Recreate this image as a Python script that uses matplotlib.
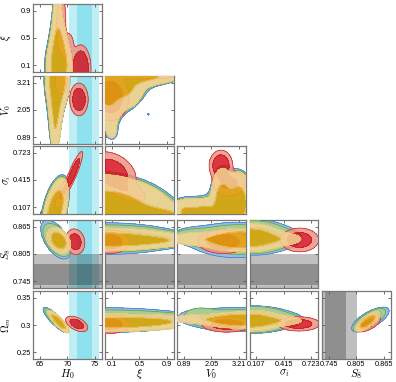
import numpy as np
import matplotlib
matplotlib.use('Agg')
import matplotlib.pyplot as plt

plt.rcParams['font.family'] = ['Liberation Sans', 'DejaVu Sans']
plt.rcParams['mathtext.fontset'] = 'cm'

# parameters, axis ranges and ticks
labels = {'H0': r'$H_0$', 'xi': r'$\xi$', 'V0': r'$V_0$',
          'sigi': r'$\sigma_i$', 'S8': r'$S_8$', 'Om': r'$\Omega_m$'}
lims = {'H0': (63.75, 76.25), 'xi': (0.0, 1.0), 'V0': (0.6, 3.5),
        'sigi': (0.03, 0.80), 'S8': (0.73, 0.88), 'Om': (0.2375, 0.3625)}
ticks = {'H0': [65, 70, 75], 'xi': [0.1, 0.5, 0.9], 'V0': [0.89, 2.05, 3.21],
         'sigi': [0.107, 0.415, 0.723], 'S8': [0.745, 0.805, 0.865],
         'Om': [0.25, 0.3, 0.35]}
tick_labels = {'H0': ['65', '70', '75'], 'xi': ['0.1', '0.5', '0.9'],
               'V0': ['0.89', '2.05', '3.21'], 'sigi': ['0.107', '0.415', '0.723'],
               'S8': ['0.745', '0.805', '0.865'], 'Om': ['0.25', '0.3', '0.35']}

# external priors (mean, sigma)
h0_band = (73.04, 1.34)
s8_band = (0.760, 0.023)

# posterior shapes: (x, y, sx, sy, rho, weight)
blue_blobs = {
    ('H0', 'xi'): [(68.4, 0.08, 1.19, 0.22, 0.0, 1.0), (68.3, 0.4, 0.81, 0.22, 0.0, 0.6), (68.1, 0.85, 0.66, 0.27, 0.0, 0.2)],
    ('H0', 'V0'): [(68.1, 3.3, 1.08, 0.6, 0.0, 1.0), (67.8, 2.2, 0.76, 0.54, 0.0, 0.45), (67.7, 1.2, 0.6, 0.54, 0.0, 0.3)],
    ('xi', 'V0'): [(0.05, 3.3, 0.17, 0.34, 0.0, 1.0), (0.3, 3.35, 0.17, 0.28, 0.0, 1.0), (0.55, 3.42, 0.17, 0.22, 0.0, 0.9),
                   (0.8, 3.47, 0.17, 0.17, 0.0, 0.7), (0.05, 2.75, 0.17, 0.34, 0.0, 1.0), (0.28, 2.9, 0.17, 0.28, 0.0, 0.9),
                   (0.05, 2.25, 0.13, 0.34, 0.0, 0.7), (0.08, 1.6, 0.13, 0.45, 0.0, 0.2), (0.1, 0.9, 0.13, 0.39, 0.0, 0.15),
                   (0.35, 2.4, 0.13, 0.34, 0.0, 0.2), (0.46, 1.65, 0.08, 0.2, 0.0, 0.12), (0.63, 1.87, 0.02, 0.07, 0.0, 0.2)],
    ('H0', 'sigi'): [(67.7, 0.08, 1.12, 0.165, 0.5, 1.0)],
    ('xi', 'sigi'): [(0.1, 0.05, 0.5, 0.22, -0.2, 1.0), (0.7, 0.03, 0.45, 0.06, 0.0, 0.5)],
    ('V0', 'sigi'): [(1.0, 0.05, 0.45, 0.1, 0.0, 0.7), (1.8, 0.05, 0.34, 0.1, 0.0, 0.7),
                     (2.5, 0.15, 0.28, 0.22, 0.0, 1.0), (3.2, 0.15, 0.34, 0.2, 0.0, 1.0)],
    ('H0', 'S8'): [(67.9, 0.837, 1.15, 0.018, -0.55, 1.0)],
    ('xi', 'S8'): [(0.0, 0.839, 0.55, 0.017, 0.0, 1.0), (0.8, 0.837, 0.4, 0.009, 0.0, 0.4)],
    ('V0', 'S8'): [(3.1, 0.836, 0.9, 0.018, 0.0, 1.0), (1.3, 0.845, 0.6, 0.012, 0.0, 0.25)],
    ('sigi', 'S8'): [(0.08, 0.842, 0.2, 0.018, 0.0, 1.0), (0.35, 0.84, 0.15, 0.012, 0.0, 0.3)],
    ('H0', 'Om'): [(67.9, 0.309, 0.95, 0.0095, -0.85, 1.0)],
    ('xi', 'Om'): [(0.0, 0.309, 0.6, 0.011, 0.0, 1.0), (0.8, 0.31, 0.35, 0.007, 0.0, 0.35)],
    ('V0', 'Om'): [(3.1, 0.31, 0.9, 0.01, 0.0, 1.0), (1.5, 0.315, 0.5, 0.008, 0.0, 0.25)],
    ('sigi', 'Om'): [(0.08, 0.31, 0.2, 0.011, 0.0, 1.0), (0.35, 0.31, 0.15, 0.007, 0.0, 0.3)],
    ('S8', 'Om'): [(0.836, 0.31, 0.017, 0.0095, 0.7, 1.0)],
}

green_blobs = {
    ('H0', 'xi'): [(68.45, 0.08, 1.14, 0.21, 0.0, 1.0), (68.35, 0.4, 0.78, 0.21, 0.0, 0.6), (68.15, 0.85, 0.63, 0.26, 0.0, 0.2)],
    ('H0', 'V0'): [(68.15, 3.3, 1.04, 0.57, 0.0, 1.0), (67.85, 2.2, 0.73, 0.52, 0.0, 0.45), (67.75, 1.2, 0.57, 0.52, 0.0, 0.3)],
    ('xi', 'V0'): [(0.05, 3.3, 0.16, 0.32, 0.0, 1.0), (0.3, 3.35, 0.16, 0.26, 0.0, 1.0), (0.55, 3.42, 0.16, 0.21, 0.0, 0.9),
                   (0.8, 3.47, 0.16, 0.16, 0.0, 0.7), (0.05, 2.75, 0.16, 0.32, 0.0, 1.0), (0.28, 2.9, 0.16, 0.26, 0.0, 0.9),
                   (0.05, 2.25, 0.13, 0.32, 0.0, 0.7), (0.08, 1.6, 0.13, 0.42, 0.0, 0.2), (0.1, 0.9, 0.13, 0.37, 0.0, 0.15),
                   (0.35, 2.4, 0.13, 0.32, 0.0, 0.2)],
    ('H0', 'sigi'): [(67.75, 0.08, 1.06, 0.158, 0.5, 1.0)],
    ('xi', 'sigi'): [(0.1, 0.05, 0.48, 0.21, -0.2, 1.0), (0.7, 0.03, 0.42, 0.055, 0.0, 0.5)],
    ('V0', 'sigi'): [(1.0, 0.05, 0.42, 0.09, 0.0, 0.7), (1.8, 0.05, 0.32, 0.09, 0.0, 0.7),
                     (2.5, 0.15, 0.26, 0.21, 0.0, 1.0), (3.2, 0.15, 0.32, 0.19, 0.0, 1.0)],
    ('H0', 'S8'): [(68.1, 0.836, 1.05, 0.015, -0.5, 1.0)],
    ('xi', 'S8'): [(0.0, 0.839, 0.52, 0.0145, 0.0, 1.0), (0.75, 0.837, 0.4, 0.008, 0.0, 0.38)],
    ('V0', 'S8'): [(3.2, 0.837, 0.82, 0.0145, 0.0, 1.0), (1.3, 0.843, 0.6, 0.011, 0.0, 0.22)],
    ('sigi', 'S8'): [(0.07, 0.842, 0.18, 0.016, 0.0, 1.0), (0.35, 0.84, 0.15, 0.01, 0.0, 0.28)],
    ('H0', 'Om'): [(68.1, 0.308, 0.9, 0.009, -0.85, 1.0)],
    ('xi', 'Om'): [(0.0, 0.308, 0.6, 0.0095, 0.0, 1.0), (0.8, 0.309, 0.35, 0.0065, 0.0, 0.33)],
    ('V0', 'Om'): [(3.2, 0.309, 0.82, 0.0085, 0.0, 1.0), (1.6, 0.318, 0.4, 0.008, 0.0, 0.25)],
    ('sigi', 'Om'): [(0.07, 0.31, 0.18, 0.0105, 0.0, 1.0), (0.35, 0.309, 0.15, 0.0065, 0.0, 0.28)],
    ('S8', 'Om'): [(0.834, 0.309, 0.0145, 0.0088, 0.72, 1.0)],
}

red_blobs = {
    ('H0', 'xi'): [(72.4, 0.05, 0.7, 0.13, 0.0, 1.0), (70.3, 0.35, 0.5, 0.12, 0.0, 0.12), (68.9, 0.7, 0.55, 0.3, 0.0, 0.08)],
    ('H0', 'V0'): [(72.1, 2.5, 0.65, 0.27, 0.0, 1.0), (68.9, 3.3, 0.6, 0.3, 0.0, 0.2)],
    ('xi', 'V0'): [(0.08, 2.6, 0.12, 0.45, 0.0, 1.0), (0.5, 3.5, 0.4, 0.08, 0.0, 0.25)],
    ('H0', 'sigi'): [(71.0, 0.49, 0.72, 0.1, 0.9, 1.0), (69.0, 0.25, 0.6, 0.08, 0.7, 0.3)],
    ('xi', 'sigi'): [(0.1, 0.5, 0.15, 0.1, -0.3, 1.0), (0.35, 0.28, 0.14, 0.07, -0.5, 0.25)],
    ('V0', 'sigi'): [(2.45, 0.58, 0.2, 0.07, 0.0, 1.0), (2.8, 0.38, 0.35, 0.07, 0.0, 0.35)],
    ('H0', 'S8'): [(71.4, 0.832, 0.72, 0.0115, -0.1, 1.0)],
    ('xi', 'S8'): [(0.08, 0.832, 0.12, 0.011, 0.0, 1.0)],
    ('V0', 'S8'): [(2.55, 0.832, 0.45, 0.011, 0.0, 1.0)],
    ('sigi', 'S8'): [(0.59, 0.836, 0.09, 0.011, 0.0, 1.0)],
    ('H0', 'Om'): [(71.7, 0.302, 0.82, 0.0058, -0.5, 1.0)],
    ('xi', 'Om'): [(0.08, 0.301, 0.12, 0.007, 0.0, 1.0)],
    ('V0', 'Om'): [(2.7, 0.301, 0.45, 0.006, 0.0, 1.0)],
    ('sigi', 'Om'): [(0.58, 0.302, 0.1, 0.0055, 0.0, 1.0)],
    ('S8', 'Om'): [(0.831, 0.302, 0.011, 0.006, 0.6, 1.0)],
}

gold_blobs = {
    ('H0', 'xi'): [(68.5, 0.08, 1.1, 0.2, 0.0, 1.0), (68.4, 0.4, 0.75, 0.2, 0.0, 0.6), (68.2, 0.85, 0.6, 0.25, 0.0, 0.2)],
    ('H0', 'V0'): [(68.2, 3.3, 1.0, 0.55, 0.0, 1.0), (67.9, 2.2, 0.7, 0.5, 0.0, 0.45), (67.8, 1.2, 0.55, 0.5, 0.0, 0.3)],
    ('xi', 'V0'): [(0.05, 3.3, 0.15, 0.3, 0.0, 1.0), (0.3, 3.35, 0.15, 0.25, 0.0, 1.0), (0.55, 3.42, 0.15, 0.2, 0.0, 0.9),
                   (0.8, 3.47, 0.15, 0.15, 0.0, 0.7), (0.05, 2.75, 0.15, 0.3, 0.0, 1.0), (0.28, 2.9, 0.15, 0.25, 0.0, 0.9),
                   (0.05, 2.25, 0.12, 0.3, 0.0, 0.7), (0.08, 1.6, 0.12, 0.4, 0.0, 0.2), (0.1, 0.9, 0.12, 0.35, 0.0, 0.15),
                   (0.35, 2.4, 0.12, 0.3, 0.0, 0.2)],
    ('H0', 'sigi'): [(67.8, 0.08, 1.0, 0.15, 0.5, 1.0)],
    ('xi', 'sigi'): [(0.1, 0.05, 0.45, 0.2, -0.2, 1.0), (0.7, 0.03, 0.4, 0.05, 0.0, 0.5)],
    ('V0', 'sigi'): [(1.0, 0.05, 0.4, 0.085, 0.0, 0.7), (1.8, 0.05, 0.3, 0.085, 0.0, 0.7),
                     (2.5, 0.15, 0.25, 0.2, 0.0, 1.0), (3.2, 0.15, 0.3, 0.18, 0.0, 1.0)],
    ('H0', 'S8'): [(68.4, 0.835, 0.9, 0.0118, -0.35, 1.0)],
    ('xi', 'S8'): [(0.0, 0.837, 0.5, 0.012, 0.0, 1.0), (0.7, 0.835, 0.4, 0.007, 0.0, 0.35)],
    ('V0', 'S8'): [(3.3, 0.836, 0.75, 0.011, 0.0, 1.0), (1.3, 0.838, 0.6, 0.009, 0.0, 0.2)],
    ('sigi', 'S8'): [(0.05, 0.841, 0.15, 0.013, 0.0, 1.0), (0.35, 0.838, 0.15, 0.008, 0.0, 0.25)],
    ('H0', 'Om'): [(68.4, 0.306, 0.8, 0.0084, -0.85, 1.0)],
    ('xi', 'Om'): [(0.0, 0.304, 0.6, 0.008, 0.0, 1.0), (0.75, 0.307, 0.35, 0.006, 0.0, 0.3)],
    ('V0', 'Om'): [(3.3, 0.309, 0.75, 0.0065, 0.0, 1.0), (1.3, 0.311, 0.6, 0.005, 0.0, 0.2)],
    ('sigi', 'Om'): [(0.05, 0.308, 0.15, 0.008, 0.0, 1.0), (0.35, 0.308, 0.15, 0.005, 0.0, 0.25)],
    ('S8', 'Om'): [(0.83, 0.306, 0.011, 0.0075, 0.75, 1.0)],
}

# (blobs, outer fill, inner fill, edge)
series = [
    (blue_blobs, '#94bce8', '#4d8edb', '#3a76c6'),
    (green_blobs, '#a9d18e', '#6aaf47', '#5a9e3a'),
    (red_blobs, '#ec9484', '#d5131f', '#c8202a'),
    (gold_blobs, '#f5d595', '#e2a70e', '#eac36a'),
]


def density(blobs, X, Y):
    Z = np.zeros_like(X)
    for mx, my, sx, sy, rho, w in blobs:
        dx = (X - mx) / sx
        dy = (Y - my) / sy
        q = (dx**2 - 2 * rho * dx * dy + dy**2) / (1 - rho**2)
        Z += w * np.exp(-0.5 * q)
    return Z


def levels(Z):
    z = np.sort(Z.ravel())[::-1]
    c = np.cumsum(z)
    c /= c[-1]
    return z[np.searchsorted(c, 0.95)], z[np.searchsorted(c, 0.68)]


W, H = 396, 382
fig = plt.figure(figsize=(W / 100, H / 100), dpi=100)

col_params = ['H0', 'xi', 'V0', 'sigi', 'S8']
row_params = ['xi', 'V0', 'sigi', 'S8', 'Om']
col_x = [33, 105, 177, 249.5, 321.7]
row_y = [4, 76, 146, 220, 291]
pw, ph = 68.8, 68.0

for r, py in enumerate(row_params):
    for c, px in enumerate(col_params):
        if c > r:
            continue
        ax = fig.add_axes([col_x[c] / W, 1 - (row_y[r] + ph) / H, pw / W, ph / H])
        x0, x1 = lims[px]
        y0, y1 = lims[py]
        xs = np.linspace(x0, x1, 220)
        ys = np.linspace(y0, y1, 220)
        X, Y = np.meshgrid(xs, ys)

        # prior bands
        if px == 'H0':
            m, s = h0_band
            ax.axvspan(m - 2 * s, m + 2 * s, color='#00bcd8', alpha=0.25, lw=0, zorder=0)
            ax.axvspan(m - s, m + s, color='#00bcd8', alpha=0.25, lw=0, zorder=0)
        if py == 'S8':
            m, s = s8_band
            ax.axhspan(m - 2 * s, m + 2 * s, color='k', alpha=0.25, lw=0, zorder=0.5)
            ax.axhspan(m - s, m + s, color='k', alpha=0.25, lw=0, zorder=0.5)
        if px == 'S8':
            m, s = s8_band
            ax.axvspan(m - 2 * s, m + 2 * s, color='k', alpha=0.25, lw=0, zorder=0.5)
            ax.axvspan(m - s, m + s, color='k', alpha=0.25, lw=0, zorder=0.5)

        for i, (blobs, c_out, c_in, c_edge) in enumerate(series):
            Z = density(blobs[(px, py)], X, Y)
            l95, l68 = levels(Z)
            a = 1.0 if i == 0 else 0.85
            ax.contourf(X, Y, Z, levels=[l95, l68, Z.max() * 1.01],
                        colors=[c_out, c_in], alpha=a, zorder=2 + i)
            ax.contour(X, Y, Z, levels=[l95, l68], colors=[c_edge],
                       linewidths=0.5, zorder=2 + i)

        ax.set_xlim(x0, x1)
        ax.set_ylim(y0, y1)
        ax.set_xticks(ticks[px])
        ax.set_yticks(ticks[py])
        ax.tick_params(direction='in', length=2.5, width=0.6, color='#555555',
                       top=True, right=True, labelsize=5.3, pad=1.5)
        for sp in ax.spines.values():
            sp.set_color('#777777')
            sp.set_linewidth(0.9)
        if c == 0:
            ax.set_yticklabels(tick_labels[py])
            ax.set_ylabel(labels[py], fontsize=7.5)
            ax.yaxis.set_label_coords(-0.29, 0.5)
        else:
            ax.set_yticklabels([])
        if r == len(row_params) - 1:
            ax.set_xticklabels(tick_labels[px])
            ax.set_xlabel(labels[px], fontsize=8, labelpad=-0.5)
        else:
            ax.set_xticklabels([])

fig.savefig('out.png', dpi=100)
